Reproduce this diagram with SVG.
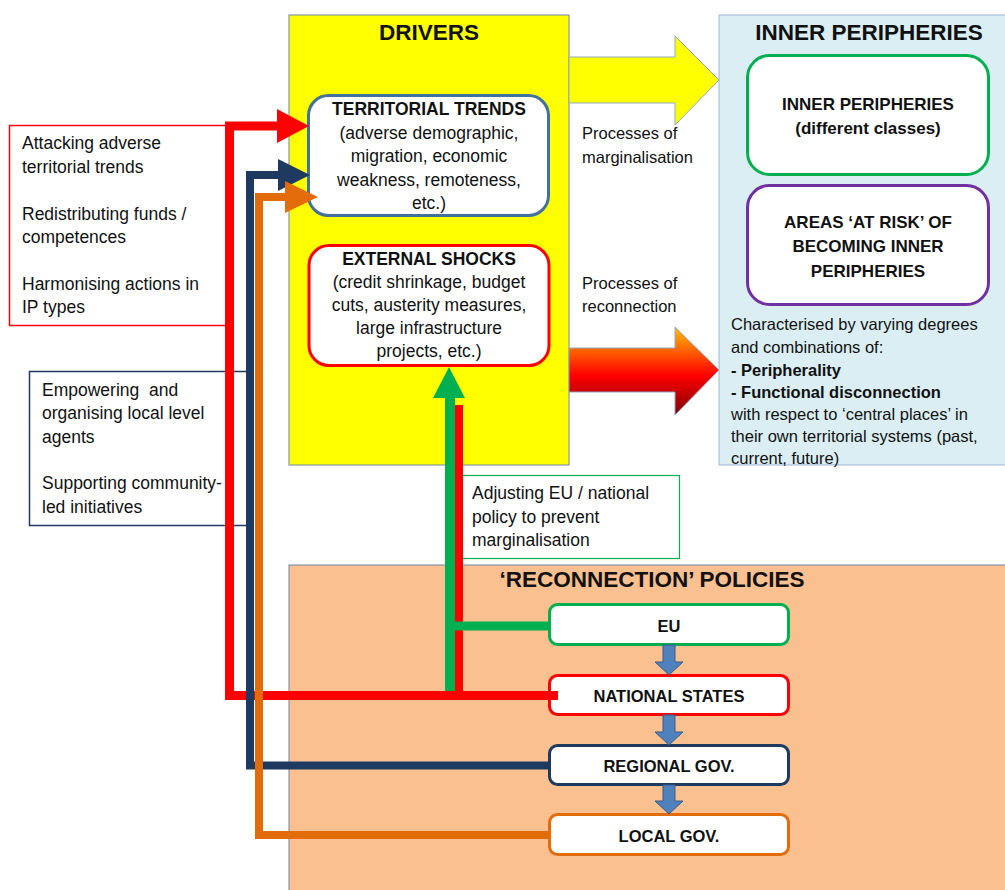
<svg xmlns="http://www.w3.org/2000/svg" width="1005" height="890" viewBox="0 0 1005 890">
<style>
text{font-family:"Liberation Sans",Arial,sans-serif;fill:#111}
.t{font-size:17.5px}
.b{font-weight:bold}
.h{font-size:22.5px;font-weight:bold}
.c{text-anchor:middle}
.nb{fill:#fff;stroke-width:3}
.ln{fill:none;stroke-linejoin:miter;stroke-linecap:butt}
.ba{fill:#4F81BD;stroke:#385D8A;stroke-width:1}
</style>
<defs>
<linearGradient id="grad" x1="0" y1="0" x2="0" y2="1">
<stop offset="0" stop-color="#FFC000"/>
<stop offset="0.55" stop-color="#FF0000"/>
<stop offset="1" stop-color="#7F0000"/>
</linearGradient>
</defs>

<g id="reconnection-policies">
<rect x="289" y="565" width="720" height="330" fill="#FAC08F" stroke="#6F86A8" stroke-width="1"/>
<text class="h c" x="652" y="587">‘RECONNECTION’ POLICIES</text>
</g>

<g id="drivers">
<rect x="289" y="15" width="280" height="450" fill="#FFFF00" stroke="#6F86A8" stroke-width="1"/>
<text class="h c" x="429" y="40">DRIVERS</text>
</g>

<g id="inner-peripheries">
<rect x="719" y="15" width="290" height="450" fill="#DAEEF3" stroke="#9DB7D5" stroke-width="1"/>
<text class="h c" x="869" y="40">INNER PERIPHERIES</text>
<text x="731" y="330" style="font-size:16.5px">Characterised by varying degrees</text>
<text x="731" y="353" style="font-size:16.5px">and combinations of:</text>
<text x="731" y="376" class="b" style="font-size:16.5px">- Peripherality</text>
<text x="731" y="398" class="b" style="font-size:16.5px">- Functional disconnection</text>
<text x="731" y="420" style="font-size:16.5px">with respect to ‘central places’ in</text>
<text x="731" y="442" style="font-size:16.5px">their own territorial systems (past,</text>
<text x="731" y="464" style="font-size:16.5px">current, future)</text>
</g>

<g id="territorial-trends">
<rect class="nb" x="308.5" y="95.5" width="240" height="120" rx="20" stroke="#41719C"/>
<text class="t b c" x="429" y="115">TERRITORIAL TRENDS</text>
<text class="t c" x="429" y="139">(adverse demographic,</text>
<text class="t c" x="429" y="162">migration, economic</text>
<text class="t c" x="429" y="186">weakness, remoteness,</text>
<text class="t c" x="429" y="209">etc.)</text>
</g>

<g id="external-shocks">
<rect class="nb" x="309" y="245.5" width="240" height="120" rx="20" stroke="#FF0000"/>
<text class="t b c" x="429" y="265">EXTERNAL SHOCKS</text>
<text class="t c" x="429" y="288">(credit shrinkage, budget</text>
<text class="t c" x="429" y="311">cuts, austerity measures,</text>
<text class="t c" x="429" y="334">large infrastructure</text>
<text class="t c" x="429" y="357">projects, etc.)</text>
</g>

<g id="ip-classes">
<rect class="nb" x="747.5" y="55.5" width="241" height="119" rx="22" stroke="#00B050"/>
<text class="b c" x="868" y="110" style="font-size:17px">INNER PERIPHERIES</text>
<text class="b c" x="868" y="134" style="font-size:17px">(different classes)</text>
</g>

<g id="areas-at-risk">
<rect class="nb" x="747.5" y="185.5" width="241" height="119" rx="22" stroke="#7030A0"/>
<text class="b c" x="868" y="228" style="font-size:17px">AREAS ‘AT RISK’ OF</text>
<text class="b c" x="868" y="252" style="font-size:17px">BECOMING INNER</text>
<text class="b c" x="868" y="277" style="font-size:17px">PERIPHERIES</text>
</g>

<g id="process-labels">
<text x="582" y="139" style="font-size:16.5px">Processes of</text>
<text x="582" y="163" style="font-size:16.5px">marginalisation</text>
<text x="582" y="289" style="font-size:16.5px">Processes of</text>
<text x="582" y="312" style="font-size:16.5px">reconnection</text>
</g>

<g id="box-attacking">
<rect x="9.5" y="125.5" width="218" height="200" fill="#fff" stroke="#FF0000" stroke-width="1.5"/>
<text class="t" x="22" y="149">Attacking adverse</text>
<text class="t" x="22" y="173">territorial trends</text>
<text class="t" x="22" y="220">Redistributing funds /</text>
<text class="t" x="22" y="243">competences</text>
<text class="t" x="22" y="290">Harmonising actions in</text>
<text class="t" x="22" y="313">IP types</text>
</g>

<g id="box-empowering">
<rect x="29.5" y="371.5" width="218" height="154" fill="#fff" stroke="#1F3A60" stroke-width="1.5"/>
<text class="t" x="42" y="396" xml:space="preserve">Empowering  and</text>
<text class="t" x="42" y="419">organising local level</text>
<text class="t" x="42" y="443">agents</text>
<text class="t" x="42" y="489">Supporting community-</text>
<text class="t" x="42" y="513">led initiatives</text>
</g>

<g id="box-adjusting">
<rect x="462.5" y="475.5" width="217" height="83" fill="#fff" stroke="#00B050" stroke-width="1.2"/>
<text class="t" x="472" y="499">Adjusting EU / national</text>
<text class="t" x="472" y="523">policy to prevent</text>
<text class="t" x="472" y="546">marginalisation</text>
</g>

<g id="eu">
<rect class="nb" x="549.5" y="604.5" width="239" height="40" rx="8" stroke="#00B050"/>
<text class="t b c" x="669" y="632" style="font-size:16.5px">EU</text>
</g>
<g id="national-states">
<rect class="nb" x="549.5" y="675.5" width="239" height="39" rx="8" stroke="#FF0000"/>
<text class="t b c" x="669" y="702" style="font-size:16.5px">NATIONAL STATES</text>
</g>
<g id="regional-gov">
<rect class="nb" x="549.5" y="745.5" width="239" height="39" rx="8" stroke="#1F3A60"/>
<text class="t b c" x="669" y="772" style="font-size:16.5px">REGIONAL GOV.</text>
</g>
<g id="local-gov">
<rect class="nb" x="549.5" y="814.5" width="239" height="40" rx="8" stroke="#E36C0A"/>
<text class="t b c" x="669" y="842" style="font-size:16.5px">LOCAL GOV.</text>
</g>

<g id="connectors">
<polygon points="569,57 675,57 675,36 719,80 675,125 675,103 569,103" fill="#FFFF00" stroke="#8EA9C8" stroke-width="1"/>
<polygon points="569,348 675,348 675,327 719,370 675,415 675,392 569,392" fill="url(#grad)" stroke="#8EA9C8" stroke-width="1"/>

<path class="ln" d="M558 695.5 H229.5 V126 H280" stroke="#FF0000" stroke-width="9"/>
<polygon points="277,109 309,126 277,143" fill="#FF0000"/>
<path class="ln" d="M459 405 V695" stroke="#FF0000" stroke-width="8"/>

<path class="ln" d="M549 765.5 H250 V175 H282" stroke="#1F3A60" stroke-width="8"/>
<polygon points="278,159 310,175 278,191" fill="#1F3A60"/>

<path class="ln" d="M549 835 H259 V197 H288" stroke="#E36C0A" stroke-width="8"/>
<polygon points="285,181 318,197 285,213" fill="#E36C0A"/>

<path class="ln" d="M455 626 H549" stroke="#00B050" stroke-width="9"/>
<path class="ln" d="M450 691 V396" stroke="#00B050" stroke-width="10"/>
<polygon points="433,398 449,367 465,398" fill="#00B050"/>

<path class="ba" d="M663 645 H675 V662 H683 L669 675 L655 662 H663 Z"/>
<path class="ba" d="M663 715 H675 V732 H683 L669 745 L655 732 H663 Z"/>
<path class="ba" d="M663 785 H675 V801 H683 L669 814 L655 801 H663 Z"/>
</g>
</svg>
